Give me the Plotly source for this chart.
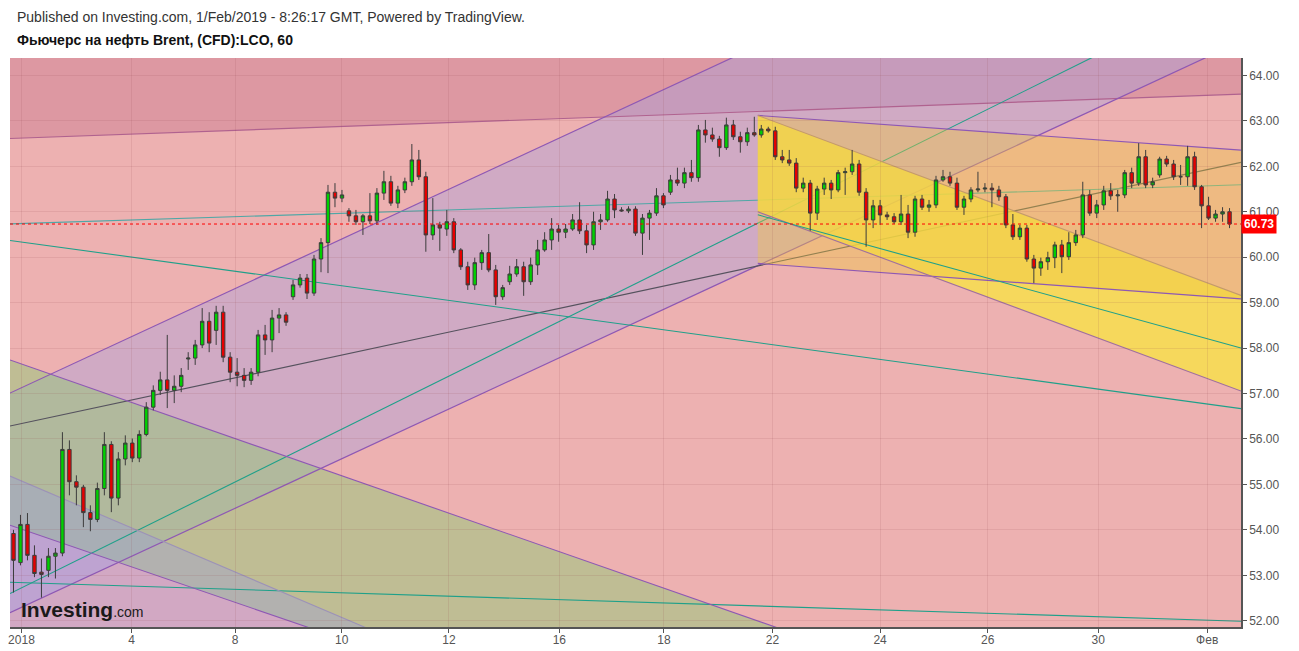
import plotly.graph_objects as go

# ---------------- candle data (3-hour bars) ----------------
opens = [
    53.92, 53.28, 54.12, 53.44, 53.07, 53.11, 53.42, 53.49, 55.77, 55.06,
    54.94, 54.38, 54.23, 54.91, 55.88, 54.70, 55.56, 55.91, 55.58, 56.10,
    56.70, 57.07, 57.30, 57.07, 57.16, 57.76, 57.78, 58.07, 58.59, 58.39,
    58.79, 57.80, 57.47, 57.40, 57.29, 57.47, 58.29, 58.18, 58.66, 58.73,
    59.13, 59.39, 59.54, 59.21, 59.96, 60.32, 61.43, 61.30, 61.02, 60.91,
    60.78, 60.91, 60.80, 61.41, 61.66, 61.19, 61.48, 61.66, 62.14, 61.77,
    60.49, 60.71, 60.62, 60.78, 60.16, 59.79, 59.39, 59.88, 60.10, 59.72,
    59.13, 59.46, 59.63, 59.79, 59.46, 59.83, 60.16, 60.38, 60.62, 60.55,
    60.62, 60.82, 60.58, 60.27, 60.78, 60.82, 61.28, 61.04, 61.02, 61.06,
    60.53, 60.86, 60.97, 61.35, 61.43, 61.70, 61.63, 61.86, 61.75, 62.80,
    62.69, 62.60, 62.41, 62.91, 62.65, 62.54, 62.74, 62.69, 62.82, 62.78,
    62.21, 62.14, 62.07, 61.52, 61.63, 60.97, 61.50, 61.63, 61.48, 61.86,
    61.88, 62.05, 61.43, 60.82, 61.13, 60.93, 60.89, 60.78, 60.95, 60.55,
    61.28, 61.10, 61.15, 61.70, 61.77, 61.63, 61.10, 61.28, 61.48, 61.50,
    61.52, 61.48, 61.33, 60.71, 60.45, 60.64, 59.96, 59.76, 59.90, 59.99,
    60.27, 60.01, 60.32, 60.49, 61.37, 60.97, 61.15, 61.46, 61.35, 61.37,
    61.86, 61.63, 62.21, 61.59, 61.81, 62.16, 62.05, 61.77, 61.77, 62.21,
    61.55, 61.13, 60.86, 60.95, 61.00,
]
highs = [
    54.00, 54.33, 54.37, 53.66, 53.37, 53.60, 53.60, 56.15, 55.97, 55.20,
    54.99, 54.54, 55.04, 56.15, 55.95, 55.71, 56.08, 56.01, 56.19, 56.81,
    57.18, 57.48, 58.29, 57.40, 57.56, 57.91, 58.18, 58.88, 58.79, 58.93,
    58.93, 57.91, 57.78, 57.56, 57.56, 58.40, 58.51, 58.84, 58.88, 58.79,
    59.50, 59.63, 59.63, 60.05, 60.42, 61.59, 61.63, 61.48, 61.08, 61.04,
    60.95, 61.41, 61.52, 61.90, 61.79, 61.57, 61.75, 62.49, 62.36, 61.88,
    61.30, 60.78, 61.04, 60.86, 60.20, 59.90, 59.99, 60.16, 60.51, 59.83,
    59.39, 59.81, 59.96, 59.90, 59.99, 60.38, 60.55, 60.86, 60.71, 60.73,
    60.95, 61.21, 60.71, 61.00, 60.95, 61.46, 61.39, 61.10, 61.12, 61.12,
    60.95, 61.04, 61.52, 61.41, 61.81, 61.97, 61.97, 62.14, 62.91, 63.02,
    62.85, 62.67, 63.07, 63.02, 62.76, 62.85, 63.09, 62.91, 62.87, 62.87,
    62.36, 62.36, 62.18, 61.75, 61.70, 61.57, 61.75, 61.70, 61.92, 61.97,
    62.36, 62.14, 61.52, 61.26, 61.26, 61.00, 60.97, 61.37, 61.15, 61.35,
    61.37, 61.26, 61.79, 61.92, 61.88, 61.75, 61.35, 61.54, 61.88, 61.63,
    61.63, 61.57, 61.39, 60.95, 60.71, 60.71, 60.05, 59.99, 60.12, 60.34,
    60.38, 60.55, 60.60, 61.66, 61.48, 61.26, 61.57, 61.63, 61.48, 61.92,
    61.97, 62.51, 62.36, 61.75, 62.21, 62.23, 62.14, 62.03, 62.45, 62.32,
    61.59, 61.33, 61.04, 61.10, 61.08,
]
lows = [
    52.62, 53.22, 53.33, 52.96, 52.51, 52.96, 52.93, 53.42, 54.76, 54.54,
    54.06, 53.97, 54.17, 54.76, 54.39, 54.54, 55.42, 55.49, 55.49, 56.06,
    56.63, 56.97, 56.68, 56.79, 57.03, 57.52, 57.63, 58.00, 57.91, 58.07,
    57.69, 57.25, 57.16, 57.14, 57.19, 57.38, 57.85, 57.91, 58.33, 58.49,
    59.06, 59.33, 59.08, 59.15, 59.67, 59.65, 61.10, 61.21, 60.78, 60.71,
    60.49, 60.73, 60.71, 61.26, 61.13, 61.08, 61.41, 61.57, 61.70, 60.12,
    60.38, 60.14, 60.47, 60.09, 59.72, 59.28, 59.28, 59.72, 59.67, 58.95,
    59.06, 59.39, 59.57, 59.15, 59.39, 59.61, 60.12, 60.16, 60.34, 60.42,
    60.58, 60.51, 60.09, 60.16, 60.60, 60.78, 60.86, 61.00, 60.97, 60.47,
    60.05, 60.38, 60.91, 61.08, 61.37, 61.57, 61.52, 61.66, 61.66, 62.52,
    62.54, 62.21, 62.36, 62.58, 62.30, 62.45, 62.65, 62.63, 62.74, 62.14,
    62.07, 62.01, 61.43, 61.43, 60.58, 60.82, 61.37, 61.28, 61.43, 61.37,
    61.81, 61.35, 60.23, 60.64, 60.71, 60.82, 60.73, 60.71, 60.42, 60.45,
    61.04, 61.00, 61.08, 61.66, 61.57, 61.04, 60.93, 61.21, 61.43, 61.43,
    61.10, 61.24, 60.64, 60.38, 60.38, 59.90, 59.43, 59.59, 59.72, 59.76,
    59.65, 59.94, 60.25, 60.42, 60.91, 60.86, 61.04, 61.26, 61.00, 61.30,
    61.52, 61.57, 61.52, 61.52, 61.75, 61.99, 61.70, 61.59, 61.57, 61.48,
    60.64, 60.82, 60.78, 60.78, 60.64,
]
closes = [
    53.33, 54.12, 53.44, 53.04, 53.02, 53.42, 53.49, 55.77, 55.06, 54.94,
    54.38, 54.23, 54.91, 55.88, 54.70, 55.56, 55.91, 55.58, 56.10, 56.70,
    57.07, 57.30, 57.07, 57.16, 57.40, 57.78, 58.07, 58.59, 58.11, 58.79,
    57.80, 57.47, 57.40, 57.29, 57.47, 58.29, 58.18, 58.66, 58.73, 58.57,
    59.39, 59.54, 59.21, 59.96, 60.32, 61.43, 61.30, 61.37, 60.91, 60.78,
    60.91, 60.80, 61.41, 61.66, 61.19, 61.48, 61.66, 62.14, 61.77, 60.49,
    60.71, 60.64, 60.78, 60.16, 59.79, 59.39, 59.88, 60.10, 59.72, 59.13,
    59.33, 59.63, 59.79, 59.46, 59.83, 60.16, 60.38, 60.62, 60.55, 60.62,
    60.82, 60.58, 60.27, 60.78, 60.82, 61.28, 61.04, 61.02, 61.06, 60.53,
    60.86, 60.97, 61.35, 61.15, 61.70, 61.63, 61.86, 61.75, 62.80, 62.69,
    62.60, 62.41, 62.91, 62.65, 62.54, 62.74, 62.69, 62.82, 62.78, 62.21,
    62.14, 62.07, 61.52, 61.63, 60.97, 61.50, 61.63, 61.48, 61.86, 61.88,
    62.05, 61.43, 60.82, 61.13, 60.93, 60.89, 60.78, 60.95, 60.55, 61.28,
    61.10, 61.15, 61.70, 61.77, 61.63, 61.10, 61.28, 61.48, 61.50, 61.52,
    61.48, 61.33, 60.71, 60.45, 60.64, 59.96, 59.76, 59.90, 59.99, 60.27,
    60.01, 60.32, 60.49, 61.37, 60.97, 61.15, 61.46, 61.35, 61.37, 61.86,
    61.63, 62.21, 61.59, 61.66, 62.16, 62.05, 61.77, 61.77, 62.21, 61.55,
    61.13, 60.86, 60.95, 61.00, 60.73,
]
bar_index = list(range(len(closes)))

# ---------------- axis labels ----------------
day_tick_positions = [1.14, 16.9, 31.7, 46.96, 62.3, 78.1, 93.07, 108.6, 124.0, 139.4, 155.2, 170.8]
day_tick_labels = ["2018", "4", "8", "10", "12", "16", "18", "22", "24", "26", "30", "Фев"]
price_ticks = [52, 53, 54, 55, 56, 57, 58, 59, 60, 61, 62, 63, 64]
last_price = 60.73

X0, X1 = -0.5, 175.64
Y0, Y1 = 51.863, 64.383

# ---------------- drawing tools: (x_a, price_a, x_b, price_b) ----------------
top_line   = (-0.5, 62.612, 175.64, 63.590)
chan_up    = (-0.5, 57.011, 99.5, 64.150)
chan_low   = (-0.5, 52.176, 99.5, 59.315)
mid_line   = (-0.5, 56.284, 175.64, 62.086)
teal_steep = (-0.5, 52.599, 99.5, 60.216)
teal_low   = (-0.5, 52.848, 175.64, 51.989)
teal_flat  = (-0.5, 60.733, 175.64, 61.593)
teal_down  = (-0.5, 60.368, 175.64, 56.667)
olive_up   = (-0.5, 57.738, 99.5, 52.372)
olive_low  = (-0.5, 54.104, 99.5, 48.831)
grey_down  = (-0.5, 55.183, 99.5, 48.633)
a_top      = (106.5, 63.119, 175.64, 62.355)
a_bot      = (106.5, 59.863, 175.64, 59.082)
b_top      = (106.5, 63.119, 175.64, 59.159)
b_bot      = (106.5, 60.998, 175.64, 57.055)
teal_b     = (106.5, 60.932, 175.64, 58.002)
wedge_start = 106.5


def at(line, x):
    xa, ya, xb, yb = line
    return ya + (yb - ya) * (x - xa) / (xb - xa)


def poly(points, color):
    path = "M " + " L ".join(f"{x:.4f},{y:.4f}" for x, y in points) + " Z"
    return dict(type="path", path=path, xref="x", yref="y", fillcolor=color,
                line=dict(width=0), layer="below")


def seg(line, color, width=1.0, xa=X0, xb=X1, dash="solid"):
    return dict(type="line", xref="x", yref="y", x0=xa, y0=at(line, xa), x1=xb, y1=at(line, xb),
                line=dict(color=color, width=width, dash=dash), layer="below")


def band(upper, lower, xa=X0, xb=X1):
    return [(xa, at(upper, xa)), (xb, at(upper, xb)), (xb, at(lower, xb)), (xa, at(lower, xa))]


PURPLE = "#8E58B4"
TEAL = "#1FA08A"

shapes = []
# fills
shapes.append(poly([(X0, at(top_line, X0)), (X1, at(top_line, X1)), (X1, Y1 + 2), (X0, Y1 + 2)],
                   "rgba(192,105,135,0.35)"))
shapes.append(poly(band(chan_up, chan_low), "rgba(160,160,230,0.38)"))
shapes.append(poly(band(olive_up, olive_low), "rgba(150,200,120,0.52)"))
shapes.append(poly([(X0, at(grey_down, X0)), (X1, at(grey_down, X1)), (X1, Y0 - 30), (X0, Y0 - 30)],
                   "rgba(150,150,240,0.30)"))
# lines lying under the later wedges
shapes.append(seg(top_line, "#B0628F", 1.2))
shapes.append(seg(chan_up, PURPLE, 1.2))
shapes.append(seg(chan_low, PURPLE, 1.2))
shapes.append(seg(mid_line, "#55525E", 1.1))
shapes.append(seg(teal_steep, TEAL, 1.1))
shapes.append(seg(teal_low, TEAL, 1.1))
shapes.append(seg(teal_flat, "#4FA7A6", 1.1))
shapes.append(seg(teal_down, TEAL, 1.1))
shapes.append(seg(olive_up, PURPLE, 1.1))
shapes.append(seg(olive_low, PURPLE, 1.1))
shapes.append(seg(grey_down, "#9C92B8", 1.1))
# wedges
shapes.append(poly(band(b_top, b_bot, wedge_start, X1), "rgba(248,226,71,0.80)"))
shapes.append(poly(band(a_top, a_bot, wedge_start, X1), "rgba(240,200,60,0.40)"))
shapes.append(seg(a_top, PURPLE, 1.2, wedge_start, X1))
shapes.append(seg(a_bot, PURPLE, 1.2, wedge_start, X1))
shapes.append(seg(b_top, "#C49A6C", 1.1, wedge_start, X1))
shapes.append(seg(b_bot, "#A0709E", 1.1, wedge_start, X1))
shapes.append(seg(teal_b, TEAL, 1.1, wedge_start, X1))
# last price dotted line
shapes.append(dict(type="line", xref="paper", yref="y", x0=0, x1=1, y0=last_price, y1=last_price,
                   line=dict(color="#FF0000", width=1, dash="dot"), layer="above"))

fig = go.Figure()
fig.add_trace(go.Candlestick(
    x=bar_index, open=opens, high=highs, low=lows, close=closes,
    increasing=dict(fillcolor="#00D000", line=dict(color="#3C3C3C", width=1)),
    decreasing=dict(fillcolor="#E60000", line=dict(color="#3C3C3C", width=1)),
    whiskerwidth=0, showlegend=False, hoverinfo="skip",
))

FONT = "Liberation Sans, Arial, sans-serif"

annotations = [
    dict(text="Published on Investing.com, 1/Feb/2019 - 8:26:17 GMT, Powered by TradingView.",
         xref="paper", yref="paper", x=0, y=1, xanchor="left", yanchor="middle",
         xshift=5, yshift=41, showarrow=False, font=dict(family=FONT, size=14, color="#333333")),
    dict(text="<b>Фьючерс на нефть Brent, (CFD):LCO, 60</b>",
         xref="paper", yref="paper", x=0, y=1, xanchor="left", yanchor="middle",
         xshift=5, yshift=18, showarrow=False, font=dict(family=FONT, size=14, color="#111111")),
    dict(text="<b>60.73</b>", xref="paper", yref="y", x=1, y=last_price, xanchor="left",
         yanchor="middle", showarrow=False, bgcolor="#FF0000", borderpad=2,
         font=dict(family=FONT, size=12, color="#FFFFFF")),
    dict(text="<b>Investing</b><span style='font-size:14px;font-weight:normal'>.com</span>",
         xref="paper", yref="paper", x=0, y=0, xanchor="left", yanchor="bottom",
         xshift=9, yshift=4, showarrow=False, font=dict(family=FONT, size=21, color="#1A1A1A")),
]

# the page body adds an 8px offset, so the figure is sized/margined to compensate
fig.update_layout(
    width=1291, height=643,
    margin=dict(l=0, r=58, t=50, b=24),
    paper_bgcolor="#FFFFFF",
    plot_bgcolor="#EDB1B1",
    shapes=shapes,
    annotations=annotations,
    showlegend=False,
    hovermode=False,
    xaxis=dict(
        range=[X0, X1], rangeslider=dict(visible=False),
        tickmode="array", tickvals=day_tick_positions, ticktext=day_tick_labels,
        showgrid=True, gridcolor="rgba(150,70,80,0.13)", gridwidth=1,
        zeroline=False, showline=True, linecolor="#555555", linewidth=1.5,
        ticks="outside", ticklen=4, tickcolor="#555555",
        ticklabeloverflow="allow", ticklabelstandoff=-3,
        tickfont=dict(family=FONT, size=12, color="#555555"),
    ),
    yaxis=dict(
        range=[Y0, Y1], side="right",
        tickmode="array", tickvals=price_ticks, ticktext=[f"{v:.2f}" for v in price_ticks],
        showgrid=True, gridcolor="rgba(150,70,80,0.13)", gridwidth=1,
        zeroline=False, showline=True, linecolor="#555555", linewidth=1.5,
        ticks="outside", ticklen=4, tickcolor="#555555",
        tickfont=dict(family=FONT, size=12, color="#555555"),
    ),
)

fig.write_html("out.html")
